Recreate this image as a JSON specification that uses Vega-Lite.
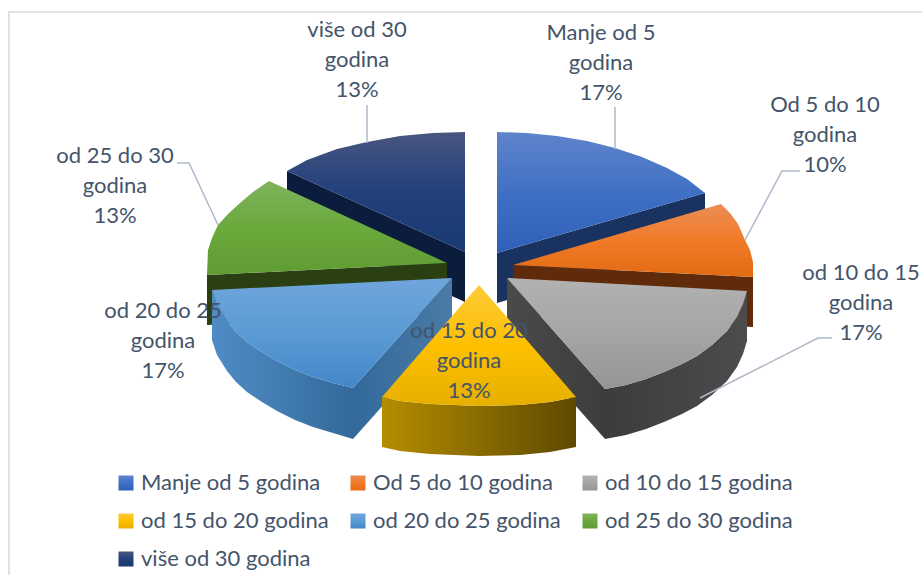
{
"$schema":"https://vega.github.io/schema/vega-lite/v6.json",
"autosize":"none",
"width":922,"height":575,"padding":0,"background":"white",
"config":{"view":{"stroke":null},"font":"Lato"},
"datasets":{
"frame":[{"g":"f","o":1,"x":9,"y":575},{"g":"f","o":2,"x":9,"y":12},{"g":"f","o":3,"x":922,"y":12}],
"leaders":[
{"g":"navy","o":1,"x":367,"y":105},{"g":"navy","o":2,"x":367,"y":143},
{"g":"blue","o":1,"x":615,"y":107},{"g":"blue","o":2,"x":615,"y":149},
{"g":"orange","o":1,"x":800,"y":171},{"g":"orange","o":2,"x":782,"y":171},{"g":"orange","o":3,"x":745,"y":240},
{"g":"grey","o":1,"x":832,"y":338},{"g":"grey","o":2,"x":818,"y":338},{"g":"grey","o":3,"x":700,"y":398},
{"g":"green","o":1,"x":177,"y":163},{"g":"green","o":2,"x":189,"y":163},{"g":"green","o":3,"x":218,"y":225}
],
"sides":[
{"p":"a navy","o":1,"x":287,"y":171},{"p":"a navy","o":2,"x":465,"y":252},{"p":"a navy","o":3,"x":465,"y":302},{"p":"a navy","o":4,"x":287,"y":221},
{"p":"b blue","o":1,"x":497,"y":253},{"p":"b blue","o":2,"x":705,"y":193},{"p":"b blue","o":3,"x":705,"y":243},{"p":"b blue","o":4,"x":497,"y":303},
{"p":"c green","o":1,"x":447,"y":263},{"p":"c green","o":2,"x":207,"y":275},{"p":"c green","o":3,"x":207,"y":325},{"p":"c green","o":4,"x":447,"y":313},
{"p":"d orange","o":1,"x":513,"y":265},{"p":"d orange","o":2,"x":753,"y":277},{"p":"d orange","o":3,"x":753,"y":327},{"p":"d orange","o":4,"x":513,"y":315},
{"p":"e greyface","o":1,"x":507,"y":278},{"p":"e greyface","o":2,"x":605,"y":389},{"p":"e greyface","o":3,"x":605,"y":439},{"p":"e greyface","o":4,"x":507,"y":328},
{"p":"f greyrim","o":1,"x":747,"y":291},{"p":"f greyrim","o":2,"x":743,"y":304},{"p":"f greyrim","o":3,"x":737,"y":317},{"p":"f greyrim","o":4,"x":727,"y":331},{"p":"f greyrim","o":5,"x":712,"y":345},{"p":"f greyrim","o":6,"x":697,"y":356},{"p":"f greyrim","o":7,"x":682,"y":364},{"p":"f greyrim","o":8,"x":664,"y":372},{"p":"f greyrim","o":9,"x":646,"y":379},{"p":"f greyrim","o":10,"x":626,"y":385},{"p":"f greyrim","o":11,"x":605,"y":389},{"p":"f greyrim","o":12,"x":605,"y":439},{"p":"f greyrim","o":13,"x":626,"y":435},{"p":"f greyrim","o":14,"x":646,"y":429},{"p":"f greyrim","o":15,"x":664,"y":422},{"p":"f greyrim","o":16,"x":682,"y":414},{"p":"f greyrim","o":17,"x":697,"y":406},{"p":"f greyrim","o":18,"x":712,"y":395},{"p":"f greyrim","o":19,"x":727,"y":381},{"p":"f greyrim","o":20,"x":737,"y":367},{"p":"f greyrim","o":21,"x":743,"y":354},{"p":"f greyrim","o":22,"x":747,"y":341},
{"p":"g lbface","o":1,"x":452,"y":278},{"p":"g lbface","o":2,"x":353,"y":388},{"p":"g lbface","o":3,"x":353,"y":439},{"p":"g lbface","o":4,"x":452,"y":328},
{"p":"h lbrim","o":1,"x":212,"y":290},{"p":"h lbrim","o":2,"x":217,"y":305},{"p":"h lbrim","o":3,"x":227,"y":321},{"p":"h lbrim","o":4,"x":236,"y":332},{"p":"h lbrim","o":5,"x":247,"y":342},{"p":"h lbrim","o":6,"x":262,"y":352},{"p":"h lbrim","o":7,"x":277,"y":361},{"p":"h lbrim","o":8,"x":295,"y":370},{"p":"h lbrim","o":9,"x":313,"y":377},{"p":"h lbrim","o":10,"x":333,"y":383},{"p":"h lbrim","o":11,"x":353,"y":388},{"p":"h lbrim","o":12,"x":353,"y":439},{"p":"h lbrim","o":13,"x":333,"y":433},{"p":"h lbrim","o":14,"x":313,"y":427},{"p":"h lbrim","o":15,"x":295,"y":420},{"p":"h lbrim","o":16,"x":277,"y":411},{"p":"h lbrim","o":17,"x":262,"y":402},{"p":"h lbrim","o":18,"x":247,"y":392},{"p":"h lbrim","o":19,"x":236,"y":382},{"p":"h lbrim","o":20,"x":227,"y":371},{"p":"h lbrim","o":21,"x":217,"y":355},{"p":"h lbrim","o":22,"x":212,"y":340},
{"p":"i yellow","o":1,"x":382,"y":397},{"p":"i yellow","o":2,"x":400,"y":401},{"p":"i yellow","o":3,"x":430,"y":404},{"p":"i yellow","o":4,"x":479,"y":406},{"p":"i yellow","o":5,"x":520,"y":405},{"p":"i yellow","o":6,"x":550,"y":402},{"p":"i yellow","o":7,"x":576,"y":397},{"p":"i yellow","o":8,"x":576,"y":447},{"p":"i yellow","o":9,"x":550,"y":452},{"p":"i yellow","o":10,"x":520,"y":455},{"p":"i yellow","o":11,"x":479,"y":456},{"p":"i yellow","o":12,"x":430,"y":454},{"p":"i yellow","o":13,"x":400,"y":451},{"p":"i yellow","o":14,"x":382,"y":447}
],
"tops":[
{"s":"Manje od 5 godina","o":1,"x":497,"y":253},{"s":"Manje od 5 godina","o":2,"x":497,"y":132},{"s":"Manje od 5 godina","o":3,"x":527,"y":133},{"s":"Manje od 5 godina","o":4,"x":557,"y":136},{"s":"Manje od 5 godina","o":5,"x":587,"y":141},{"s":"Manje od 5 godina","o":6,"x":615,"y":148},{"s":"Manje od 5 godina","o":7,"x":642,"y":157},{"s":"Manje od 5 godina","o":8,"x":667,"y":168},{"s":"Manje od 5 godina","o":9,"x":687,"y":179},{"s":"Manje od 5 godina","o":10,"x":705,"y":193},
{"s":"Od 5 do 10 godina","o":1,"x":513,"y":265},{"s":"Od 5 do 10 godina","o":2,"x":721,"y":204},{"s":"Od 5 do 10 godina","o":3,"x":730,"y":213},{"s":"Od 5 do 10 godina","o":4,"x":738,"y":224},{"s":"Od 5 do 10 godina","o":5,"x":745,"y":240},{"s":"Od 5 do 10 godina","o":6,"x":750,"y":250},{"s":"Od 5 do 10 godina","o":7,"x":753,"y":262},{"s":"Od 5 do 10 godina","o":8,"x":753,"y":277},
{"s":"od 10 do 15 godina","o":1,"x":507,"y":278},{"s":"od 10 do 15 godina","o":2,"x":747,"y":291},{"s":"od 10 do 15 godina","o":3,"x":743,"y":304},{"s":"od 10 do 15 godina","o":4,"x":737,"y":317},{"s":"od 10 do 15 godina","o":5,"x":727,"y":331},{"s":"od 10 do 15 godina","o":6,"x":712,"y":345},{"s":"od 10 do 15 godina","o":7,"x":697,"y":356},{"s":"od 10 do 15 godina","o":8,"x":682,"y":364},{"s":"od 10 do 15 godina","o":9,"x":664,"y":372},{"s":"od 10 do 15 godina","o":10,"x":646,"y":379},{"s":"od 10 do 15 godina","o":11,"x":626,"y":385},{"s":"od 10 do 15 godina","o":12,"x":605,"y":389},
{"s":"od 15 do 20 godina","o":1,"x":479,"y":285},{"s":"od 15 do 20 godina","o":2,"x":576,"y":397},{"s":"od 15 do 20 godina","o":3,"x":550,"y":402},{"s":"od 15 do 20 godina","o":4,"x":520,"y":405},{"s":"od 15 do 20 godina","o":5,"x":479,"y":406},{"s":"od 15 do 20 godina","o":6,"x":430,"y":404},{"s":"od 15 do 20 godina","o":7,"x":400,"y":401},{"s":"od 15 do 20 godina","o":8,"x":382,"y":397},
{"s":"od 20 do 25 godina","o":1,"x":452,"y":278},{"s":"od 20 do 25 godina","o":2,"x":353,"y":388},{"s":"od 20 do 25 godina","o":3,"x":333,"y":383},{"s":"od 20 do 25 godina","o":4,"x":313,"y":377},{"s":"od 20 do 25 godina","o":5,"x":295,"y":370},{"s":"od 20 do 25 godina","o":6,"x":277,"y":361},{"s":"od 20 do 25 godina","o":7,"x":262,"y":352},{"s":"od 20 do 25 godina","o":8,"x":247,"y":342},{"s":"od 20 do 25 godina","o":9,"x":236,"y":332},{"s":"od 20 do 25 godina","o":10,"x":227,"y":321},{"s":"od 20 do 25 godina","o":11,"x":217,"y":305},{"s":"od 20 do 25 godina","o":12,"x":212,"y":290},
{"s":"od 25 do 30 godina","o":1,"x":447,"y":263},{"s":"od 25 do 30 godina","o":2,"x":207,"y":275},{"s":"od 25 do 30 godina","o":3,"x":208,"y":250},{"s":"od 25 do 30 godina","o":4,"x":212,"y":238},{"s":"od 25 do 30 godina","o":5,"x":218,"y":225},{"s":"od 25 do 30 godina","o":6,"x":228,"y":214},{"s":"od 25 do 30 godina","o":7,"x":240,"y":203},{"s":"od 25 do 30 godina","o":8,"x":253,"y":192},{"s":"od 25 do 30 godina","o":9,"x":269,"y":181},
{"s":"više od 30 godina","o":1,"x":465,"y":252},{"s":"više od 30 godina","o":2,"x":287,"y":171},{"s":"više od 30 godina","o":3,"x":307,"y":160},{"s":"više od 30 godina","o":4,"x":337,"y":149},{"s":"više od 30 godina","o":5,"x":367,"y":142},{"s":"više od 30 godina","o":6,"x":400,"y":136},{"s":"više od 30 godina","o":7,"x":433,"y":133},{"s":"više od 30 godina","o":8,"x":465,"y":132}
],
"labels":[
{"t":"Manje od 5\ngodina\n17%","x":601,"y":33},
{"t":"Od 5 do 10\ngodina\n10%","x":825,"y":105},
{"t":"od 10 do 15\ngodina\n17%","x":861,"y":273},
{"t":"od 15 do 20\ngodina\n13%","x":469,"y":331},
{"t":"od 20 do 25\ngodina\n17%","x":163,"y":311},
{"t":"od 25 do 30\ngodina\n13%","x":115,"y":156},
{"t":"više od 30\ngodina\n13%","x":357,"y":30}
]
},
"data":{"name":"frame"},
"encoding":{
"x":{"field":"x","type":"quantitative","scale":{"domain":[0,922],"nice":false,"zero":false},"axis":null},
"y":{"field":"y","type":"quantitative","scale":{"domain":[575,0],"nice":false,"zero":false},"axis":null}
},
"layer":[
{"mark":{"type":"line","stroke":"#dee3ea","strokeWidth":2,"strokeCap":"butt"},"encoding":{"order":{"field":"o"}}},
{"data":{"name":"sides"},"mark":{"type":"line","filled":true,"interpolate":"linear-closed"},
"encoding":{"order":{"field":"o"},
"color":{"field":"p","type":"nominal","legend":null,"scale":{
"domain":["a navy","b blue","c green","d orange","e greyface","f greyrim","g lbface","h lbrim","i yellow"],
"range":["#0c1c3c","#1a325f","#2b4012","#5f2b0a",
{"expr":"{gradient:'linear',x1:0,y1:0,x2:1,y2:0,stops:[{offset:0,color:'#4a4a4a'},{offset:1,color:'#3d3d3d'}]}"},
{"expr":"{gradient:'linear',x1:0,y1:0,x2:1,y2:0,stops:[{offset:0,color:'#3c3c3c'},{offset:1,color:'#4c4c4c'}]}"},
{"expr":"{gradient:'linear',x1:0,y1:0,x2:1,y2:0,stops:[{offset:0,color:'#33699b'},{offset:1,color:'#4b7ba6'}]}"},
{"expr":"{gradient:'linear',x1:0,y1:0,x2:1,y2:0,stops:[{offset:0,color:'#4f8cc6'},{offset:0.6,color:'#3f78ac'},{offset:1,color:'#33699b'}]}"},
{"expr":"{gradient:'linear',x1:0,y1:0,x2:1,y2:0,stops:[{offset:0,color:'#b58d00'},{offset:1,color:'#5e4900'}]}"}
]}}}},
{"data":{"name":"tops"},"mark":{"type":"line","filled":true,"interpolate":"linear-closed"},
"encoding":{"order":{"field":"o"},
"color":{"field":"s","type":"nominal","scale":{
"domain":["Manje od 5 godina","Od 5 do 10 godina","od 10 do 15 godina","od 15 do 20 godina","od 20 do 25 godina","od 25 do 30 godina","više od 30 godina"],
"range":[
{"expr":"{gradient:'linear',x1:0,y1:0,x2:0,y2:1,stops:[{offset:0,color:'#5f83cb'},{offset:0.5,color:'#4070c4'},{offset:1,color:'#2f60b9'}]}"},
{"expr":"{gradient:'linear',x1:0,y1:0,x2:0,y2:1,stops:[{offset:0,color:'#eb8d55'},{offset:0.5,color:'#f07a28'},{offset:1,color:'#e26b12'}]}"},
{"expr":"{gradient:'linear',x1:0,y1:0,x2:0,y2:1,stops:[{offset:0,color:'#b2b2b2'},{offset:0.5,color:'#a5a5a5'},{offset:1,color:'#959595'}]}"},
{"expr":"{gradient:'linear',x1:0,y1:0,x2:0,y2:1,stops:[{offset:0,color:'#ffca3a'},{offset:0.5,color:'#fdc000'},{offset:1,color:'#e6b000'}]}"},
{"expr":"{gradient:'linear',x1:0,y1:0,x2:0,y2:1,stops:[{offset:0,color:'#70a5dc'},{offset:0.5,color:'#5b9bd5'},{offset:1,color:'#4287c8'}]}"},
{"expr":"{gradient:'linear',x1:0,y1:0,x2:0,y2:1,stops:[{offset:0,color:'#7eb45c'},{offset:0.5,color:'#6aa93c'},{offset:1,color:'#5f9c32'}]}"},
{"expr":"{gradient:'linear',x1:0,y1:0,x2:0,y2:1,stops:[{offset:0,color:'#48567f'},{offset:0.5,color:'#22407c'},{offset:1,color:'#1a3a72'}]}"}
]},
"legend":{"title":null,"orient":"none","direction":"horizontal","legendX":115,"legendY":472,"columns":3,"symbolType":"square","symbolSize":225,"symbolStrokeWidth":0,"labelFont":"Lato","labelFontSize":22,"labelColor":"#44546a","labelLimit":300,"columnPadding":18,"rowPadding":16,"symbolOffset":0,"labelOffset":4}
}}},
{"data":{"name":"leaders"},"mark":{"type":"line","stroke":"#adb9ca","strokeWidth":1.5},"encoding":{"order":{"field":"o"},"detail":{"field":"g"}}},
{"data":{"name":"labels"},"mark":{"type":"text","font":"Lato","fontSize":22,"lineHeight":30,"lineBreak":"\n","color":"#44546a","align":"center","baseline":"middle"},"encoding":{"text":{"field":"t"}}}
],
"resolve":{"scale":{"color":"independent"}}
}
